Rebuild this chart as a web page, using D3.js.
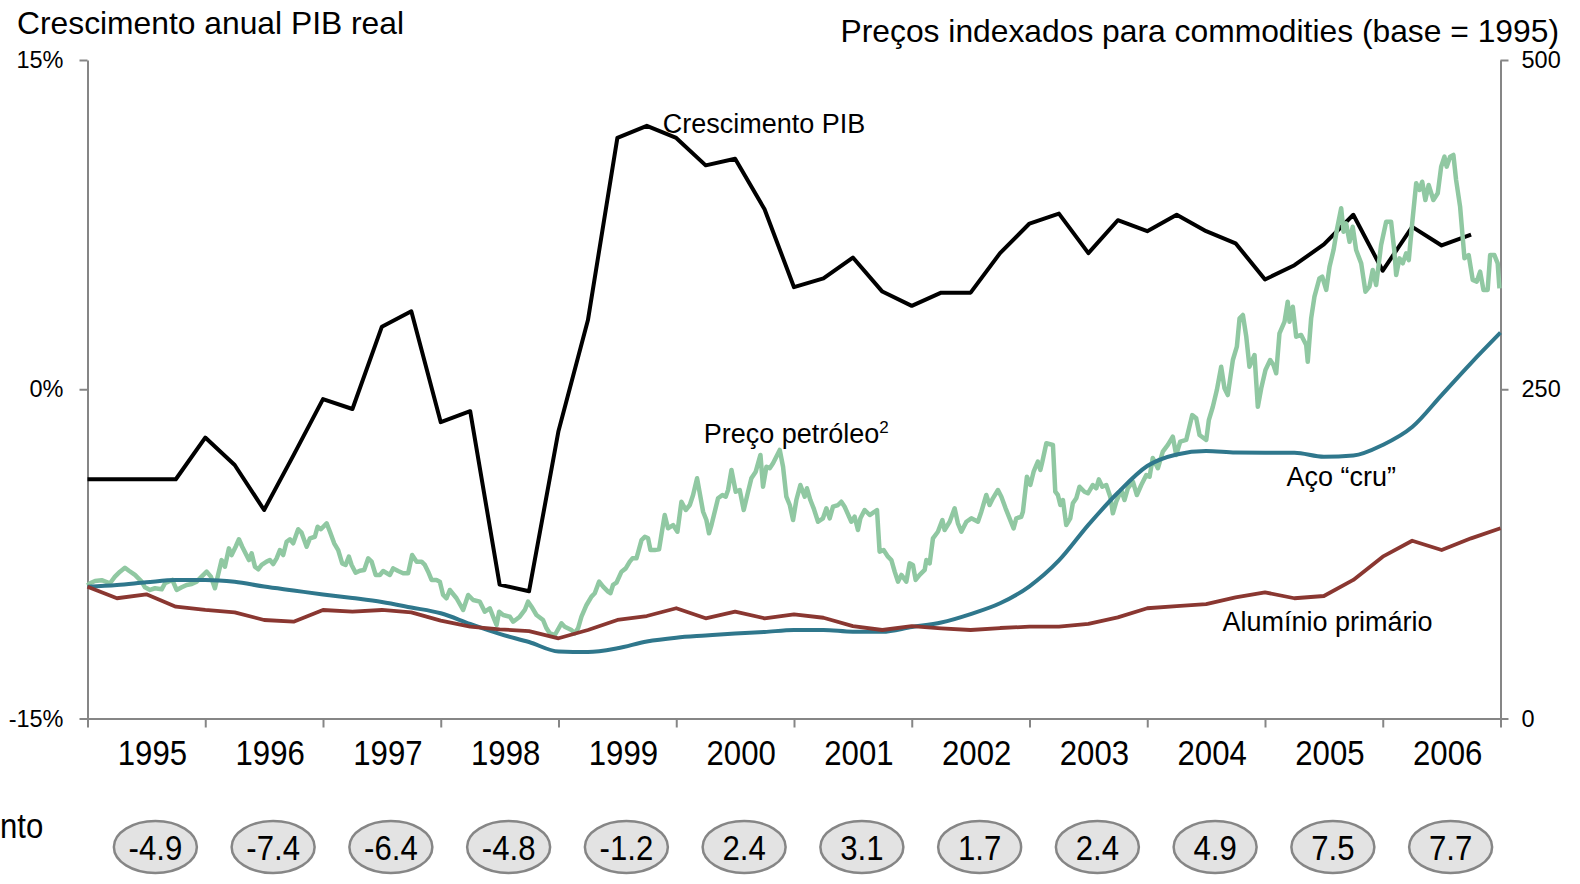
<!DOCTYPE html>
<html lang="pt">
<head>
  <meta charset="UTF-8" />
  <title>Crescimento PIB e preços de commodities</title>
  <style>
    body {
      margin: 0;
      background: #fff;
      font-family: "Liberation Sans", Arial, sans-serif;
    }
    .axis path, .axis line {
      stroke: #868686;
      stroke-width: 2;
    }
    .axis text {
      fill: #000;
    }
    .lbl {
      font-size: 27px;
      fill: #000;
    }
    .big {
      font-size: 35px;
      fill: #000;
    }
  </style>
</head>
<body>
  <div id="chart"></div>
  <script src="https://d3js.org/d3.v7.min.js"></script>
  <script>
    // Years on the axis and the figure shown in each bubble under them
    var years = [1995, 1996, 1997, 1998, 1999, 2000, 2001, 2002, 2003, 2004, 2005, 2006];
    var bubbleValues = [-4.9, -7.4, -6.4, -4.8, -1.2, 2.4, 3.1, 1.7, 2.4, 4.9, 7.5, 7.7];

    var leftTicks = [-15, 0, 15];
    var rightTicks = [0, 250, 500];

    // Quarterly series (decimal years)
    var quarters = [1995, 1995.25, 1995.5, 1995.75, 1996, 1996.25, 1996.5, 1996.75,
      1997, 1997.25, 1997.5, 1997.75, 1998, 1998.25, 1998.5, 1998.75,
      1999, 1999.25, 1999.5, 1999.75, 2000, 2000.25, 2000.5, 2000.75,
      2001, 2001.25, 2001.5, 2001.75, 2002, 2002.25, 2002.5, 2002.75,
      2003, 2003.25, 2003.5, 2003.75, 2004, 2004.25, 2004.5, 2004.75,
      2005, 2005.25, 2005.5, 2005.75, 2006, 2006.25, 2006.5, 2006.75, 2007];

    // Real GDP growth, % (left axis)
    var gdpGrowth = [-4.1, -4.1, -4.1, -4.1, -2.2, -3.45, -5.5, -3.0,
      -0.45, -0.9, 2.85, 3.55, -1.5, -1.0, -8.9, -9.2,
      -1.9, 3.15, 11.45, 12.0, 11.45, 10.2, 10.5, 8.2,
      4.65, 5.05, 6.0, 4.45, 3.8, 4.4, 4.4, 6.2,
      7.55, 8.0, 6.2, 7.7, 7.2, 7.95, 7.2, 6.65,
      5.0, 5.65, 6.6, 7.95, 5.4, 7.4, 6.55, 7.05];

    // Crude steel price index, 1995 = 100 (right axis)
    var steel = [100, 101.4, 103.4, 105.2, 105.2, 103.8, 100.2, 97.2,
      94.2, 91.5, 88.5, 84.3, 79.9, 71.8, 64.2, 58.1,
      50.9, 50.5, 53.3, 58.5, 61.4, 63.0, 64.5, 65.7,
      67.2, 67.2, 65.9, 65.9, 69.5, 72.9, 79.3, 87.5,
      100.4, 120, 147, 171.4, 191.7, 200.5, 203.1, 202,
      201.8, 201.8, 198.8, 199.7, 207.7, 221.3, 245.6, 269.9, 293];

    // Primary aluminium price index, 1995 = 100 (right axis)
    var aluminium = [100, 91.3, 94.3, 84.9, 82.4, 80.6, 74.8, 73.5,
      82.4, 81.1, 82.4, 80.6, 74.3, 69.7, 67.7, 66.4,
      60.9, 67.2, 74.8, 77.8, 83.7, 76.1, 81.1, 76.1,
      79.1, 76.5, 70.2, 67.2, 70.2, 68.5, 67.2, 68.7,
      69.7, 69.7, 71.8, 76.8, 83.7, 85.4, 86.9, 92,
      95.8, 91.3, 93, 105.2, 122.9, 135, 127.9, 136.8, 144.4];

    var oilDates = [
      1995.000,1995.021,1995.064,1995.120,1995.191,1995.233,1995.276,1995.318,1995.352,1995.403,
      1995.460,1995.488,1995.531,1995.573,1995.630,1995.658,1995.720,1995.757,1995.800,1995.842,
      1995.885,1995.927,1995.969,1996.012,1996.048,1996.082,1996.139,1996.167,1996.201,1996.224,
      1996.258,1996.286,1996.314,1996.371,1996.394,1996.422,1996.450,1996.479,1996.521,1996.549,
      1996.577,1996.606,1996.634,1996.662,1996.691,1996.719,1996.747,1996.789,1996.818,1996.861,
      1996.889,1996.931,1996.954,1996.982,1997.031,1997.059,1997.095,1997.129,1997.163,1997.192,
      1997.220,1997.243,1997.277,1997.313,1997.350,1997.384,1997.413,1997.447,1997.483,1997.511,
      1997.568,1997.596,1997.638,1997.681,1997.723,1997.757,1997.795,1997.837,1997.865,1997.893,
      1997.922,1997.964,1997.992,1998.020,1998.049,1998.077,1998.134,1998.190,1998.233,1998.275,
      1998.332,1998.374,1998.417,1998.445,1998.474,1998.496,1998.530,1998.587,1998.615,1998.671,
      1998.714,1998.742,1998.771,1998.813,1998.869,1998.898,1998.926,1998.969,1999.025,1999.053,
      1999.110,1999.138,1999.166,1999.195,1999.238,1999.280,1999.308,1999.345,1999.379,1999.421,
      1999.441,1999.463,1999.492,1999.535,1999.571,1999.605,1999.628,1999.662,1999.705,1999.733,
      1999.761,1999.781,1999.817,1999.854,1999.883,1999.902,1999.930,1999.973,2000.010,2000.044,
      2000.081,2000.115,2000.143,2000.177,2000.205,2000.228,2000.256,2000.278,2000.299,2000.355,
      2000.392,2000.420,2000.440,2000.469,2000.505,2000.539,2000.573,2000.610,2000.638,2000.675,
      2000.715,2000.737,2000.766,2000.794,2000.822,2000.879,2000.907,2000.935,2000.964,2000.992,
      2001.020,2001.054,2001.091,2001.110,2001.139,2001.167,2001.204,2001.246,2001.275,2001.303,
      2001.331,2001.374,2001.402,2001.430,2001.487,2001.515,2001.543,2001.564,2001.600,2001.643,
      2001.685,2001.705,2001.727,2001.761,2001.798,2001.827,2001.855,2001.883,2001.912,2001.954,
      2001.982,2002.010,2002.033,2002.067,2002.110,2002.124,2002.152,2002.180,2002.222,2002.260,
      2002.279,2002.322,2002.364,2002.392,2002.421,2002.464,2002.506,2002.562,2002.591,2002.633,
      2002.661,2002.689,2002.732,2002.761,2002.797,2002.831,2002.865,2002.888,2002.930,2002.944,
      2002.978,2003.007,2003.035,2003.071,2003.092,2003.109,2003.143,2003.199,2003.219,2003.241,
      2003.262,2003.284,2003.312,2003.346,2003.368,2003.397,2003.425,2003.467,2003.496,2003.538,
      2003.567,2003.589,2003.618,2003.652,2003.686,2003.708,2003.737,2003.779,2003.807,2003.835,
      2003.878,2003.912,2003.949,2003.992,2004.020,2004.047,2004.090,2004.132,2004.175,2004.217,
      2004.246,2004.280,2004.331,2004.382,2004.416,2004.444,2004.501,2004.523,2004.557,2004.591,
      2004.628,2004.656,2004.684,2004.727,2004.761,2004.784,2004.812,2004.841,2004.868,2004.911,
      2004.939,2004.968,2005.004,2005.044,2005.072,2005.095,2005.123,2005.166,2005.193,2005.208,
      2005.236,2005.265,2005.307,2005.350,2005.363,2005.392,2005.420,2005.462,2005.486,2005.520,
      2005.548,2005.582,2005.610,2005.647,2005.667,2005.689,2005.718,2005.745,2005.774,2005.817,
      2005.853,2005.887,2005.915,2005.944,2005.986,2006.029,2006.071,2006.099,2006.114,2006.142,
      2006.170,2006.199,2006.221,2006.250,2006.284,2006.312,2006.335,2006.362,2006.390,2006.430,
      2006.467,2006.496,2006.524,2006.543,2006.572,2006.600,2006.623,2006.657,2006.694,2006.730,
      2006.764,2006.798,2006.827,2006.855,2006.891,2006.912,2006.948,2006.976,2006.991];
    var oilIndex = [
      101,102.7,104.4,105,102.7,107.7,111.5,114.5,112.2,109.0,
      103.9,99.6,97.6,98.9,98.1,102.7,105.2,97.6,99.6,101.4,
      102.1,103.9,107.7,111.5,107.7,98.9,120.3,115.3,129.2,124.1,
      130.4,136.1,130.4,120.3,125.4,115.3,113.3,116.6,119.1,120.3,
      117.3,121.6,127.9,124.1,134.2,136.1,133.0,143.7,141.1,130.4,
      136.8,138.0,145.6,143.7,148.2,141.8,133.0,127.9,117.8,116.6,
      122.9,116.6,110.7,112.2,112.8,121.6,119.1,109.0,109.0,112.0,
      109.0,114.0,112.0,110.3,110.3,124.1,119.1,119.1,116.6,111.5,
      105.2,105.2,103.9,93.8,91.3,97.6,91.3,82.4,93.8,90.0,
      88.7,81.1,83.7,77.3,71.0,81.1,78.6,77.3,73.5,77.3,
      82.4,88.7,84.9,78.6,74.8,68.5,64.7,63.4,72.3,69.7,
      67.2,64.7,68.5,77.3,86.2,92.5,95.1,103.9,100.1,96.3,
      95.1,101.4,103.1,111.5,114.0,119.1,121.6,121.6,135.5,138.0,
      136.8,127.9,127.9,128.5,144.4,154.5,144.4,146.9,141.8,164.6,
      158.3,162.1,169.7,182.4,168.4,157.0,150.7,140.6,146.9,167.2,
      169.7,168.4,173.5,188.7,172.2,173.5,158.3,172.2,182.4,187.4,
      200.1,176.0,191.2,190.0,193.8,203.9,191.2,168.4,162.1,150.7,
      165.9,177.3,168.4,174.8,165.9,159.6,149.4,152.0,159.6,152.0,
      160.8,162.1,164.6,160.8,149.4,153.2,143.1,152.0,158.3,154.5,
      157.0,158.3,126.7,127.9,122.9,120.3,111.5,103.9,109.0,103.9,
      117.8,116.6,105.2,109.0,112.8,120.3,117.8,136.8,141.8,150.7,
      143.1,149.4,159.6,148.2,141.8,149.4,152.0,149.4,157.0,169.7,
      162.1,167.2,173.5,168.4,159.6,152.0,144.4,152.0,153.2,157.0,
      183.6,177.3,187.4,195.0,188.7,195.0,209.0,207.7,172.2,169.7,
      162.1,165.9,146.9,152.0,163.4,167.2,176.0,172.2,171.0,177.3,
      174.8,181.6,176.0,177.3,168.4,155.8,164.6,173.5,165.9,174.8,
      179.8,169.7,177.3,184.9,183.6,197.8,190.0,202.6,207.7,214.0,
      200.1,210.2,211.5,230.4,227.9,215.3,211.5,226.6,236.7,249.4,
      267.1,250.7,245.6,272.2,282.3,303.9,306.4,289.9,267.1,276.0,
      236.7,250.7,264.6,272.2,268.4,262.1,292.5,301.3,316.5,301.3,
      312.7,289.9,291.2,283.6,270.9,303.9,320.3,334.2,335.5,325.4,
      343.0,355.7,370.9,387.4,369.6,376.0,362.0,373.4,355.7,345.6,
      324.1,327.9,340.5,329.2,359.5,377.2,377.2,354.4,336.7,349.4,
      345.6,353.2,348.1,376.0,406.4,401.3,407.6,393.7,405.1,393.7,
      398.8,419.0,426.6,419.0,426.6,427.9,408.9,388.6,349.4,351.9,
      333.0,331.7,339.3,325.4,325.4,351.9,351.9,345.6,326.6];

    // Set up the SVG
    var width = 1580, height = 884;
    var plot = {left: 87.5, right: 1500.5, top: 60, bottom: 718.5};

    var svg = d3.select("#chart")
      .append("svg")
      .attr("width", width)
      .attr("height", height);

    // Scales
    var x = d3.scaleLinear().domain([1995, 2007]).range([plot.left, plot.right]);
    var yLeft = d3.scaleLinear().domain([-15, 15]).range([plot.bottom, plot.top]);
    var yRight = d3.scaleLinear().domain([0, 500]).range([plot.bottom, plot.top]);

    // Axes
    svg.append("g")
      .attr("class", "axis")
      .attr("transform", "translate(0," + plot.bottom + ")")
      .call(d3.axisBottom(x).tickValues(years.concat([2007])).tickSize(9).tickSizeOuter(0).tickFormat(""));

    svg.append("g")
      .attr("class", "axis")
      .attr("transform", "translate(" + plot.left + ",0)")
      .call(d3.axisLeft(yLeft).tickValues(leftTicks).tickSize(8).tickSizeOuter(0)
        .tickPadding(16).tickFormat(function(d) { return d + "%"; }));

    svg.append("g")
      .attr("class", "axis")
      .attr("transform", "translate(" + plot.right + ",0)")
      .call(d3.axisRight(yRight).tickValues(rightTicks).tickSize(8).tickSizeOuter(0).tickPadding(13));

    svg.selectAll(".axis")
      .attr("font-family", null)
      .attr("font-size", null)
      .selectAll("text")
      .style("font-size", "23.5px");

    // Lines
    var line = function(scale) {
      return d3.line()
        .x(function(d) { return x(d[0]); })
        .y(function(d) { return scale(d[1]); });
    };

    svg.append("path")
      .datum(d3.zip(quarters.slice(0, gdpGrowth.length), gdpGrowth))
      .attr("fill", "none")
      .attr("stroke", "#000")
      .attr("stroke-width", 4)
      .attr("stroke-linejoin", "round")
      .attr("d", line(yLeft));

    svg.append("path")
      .datum(d3.zip(oilDates, oilIndex))
      .attr("fill", "none")
      .attr("stroke", "#90c8a2")
      .attr("stroke-width", 4.5)
      .attr("stroke-linejoin", "round")
      .attr("d", line(yRight));

    svg.append("path")
      .datum(d3.zip(quarters, steel))
      .attr("fill", "none")
      .attr("stroke", "#2f778c")
      .attr("stroke-width", 4)
      .attr("d", line(yRight).curve(d3.curveMonotoneX));

    svg.append("path")
      .datum(d3.zip(quarters, aluminium))
      .attr("fill", "none")
      .attr("stroke", "#8a3731")
      .attr("stroke-width", 3.8)
      .attr("stroke-linejoin", "round")
      .attr("d", line(yRight));

    // Series labels
    svg.append("text").attr("class", "lbl")
      .attr("x", x(1999.885)).attr("y", yLeft(11.69))
      .text("Crescimento PIB");

    var oilLabel = svg.append("text").attr("class", "lbl")
      .attr("x", x(2000.233)).attr("y", yRight(209.2))
      .text("Preço petróleo");
    oilLabel.append("tspan").attr("dy", -10).style("font-size", "17px").text("2");

    svg.append("text").attr("class", "lbl")
      .attr("x", x(2005.183)).attr("y", yRight(176.3))
      .text("Aço “cru”");

    svg.append("text").attr("class", "lbl")
      .attr("x", x(2004.639)).attr("y", yRight(66.1))
      .text("Alumínio primário");

    // Titles
    svg.append("text")
      .attr("x", 17).attr("y", 34)
      .style("font-size", "31.8px")
      .text("Crescimento anual PIB real");

    svg.append("text")
      .attr("x", 1559).attr("y", 42)
      .attr("text-anchor", "end")
      .style("font-size", "31.8px")
      .text("Preços indexados para commodities (base = 1995)");

    // Year labels under the axis
    svg.selectAll(".year")
      .data(years)
      .enter()
      .append("text")
      .attr("class", "year big")
      .attr("text-anchor", "middle")
      .attr("transform", function(d) {
        return "translate(" + (x(d + 0.5) + 6) + ",765) scale(0.89,1)";
      })
      .text(function(d) { return d; });

    // Row label: only its tail shows at the left edge
    svg.append("text")
      .attr("class", "big")
      .attr("transform", "translate(0,838) scale(0.89,1)")
      .text("nto");

    // Bubbles
    var bubble = svg.selectAll(".bubble")
      .data(years)
      .enter()
      .append("g")
      .attr("class", "bubble")
      .attr("transform", function(d) { return "translate(" + (x(d + 0.5) + 9) + ",847)"; });

    bubble.append("ellipse")
      .attr("rx", 41.5)
      .attr("ry", 26)
      .attr("fill", "#e3e3e3")
      .attr("stroke", "#868686")
      .attr("stroke-width", 2.5);

    bubble.append("text")
      .attr("class", "big")
      .attr("text-anchor", "middle")
      .attr("transform", "translate(0,12.5) scale(0.89,1)")
      .text(function(d, i) { return bubbleValues[i].toFixed(1); });
  </script>
</body>
</html>
